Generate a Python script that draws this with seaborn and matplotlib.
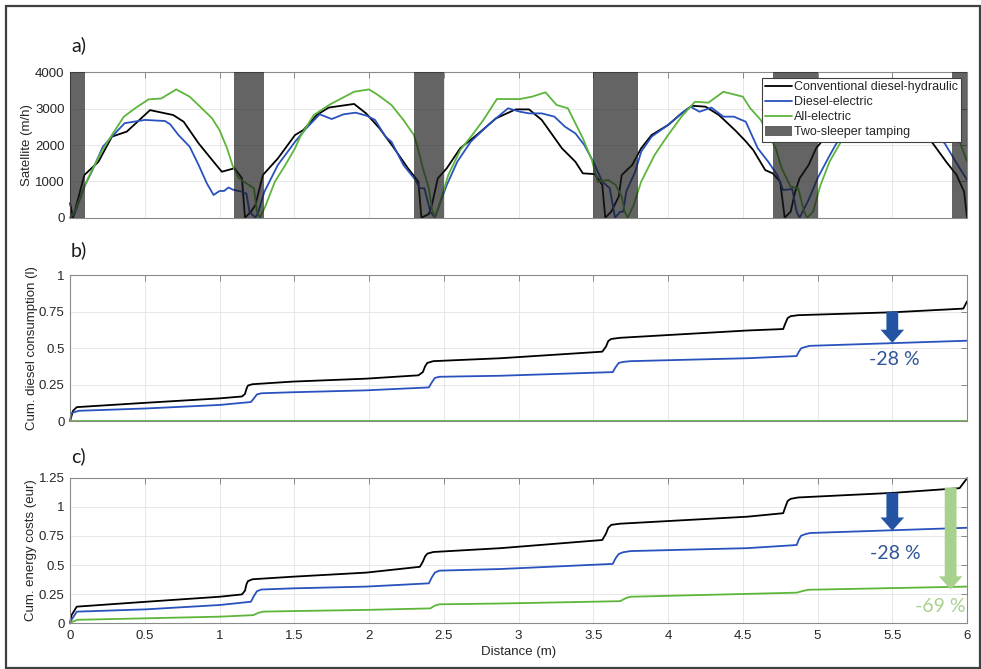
import numpy as np
import pandas as pd
import matplotlib.pyplot as plt
import seaborn as sns
from matplotlib.lines import Line2D
from matplotlib.patches import Patch, Rectangle
from matplotlib.ticker import FuncFormatter

# ── data ─────────────────────────────────────────────────────
machines = ["Conventional diesel-hydraulic", "Diesel-electric", "All-electric"]
colors = ["#000000", "#2a52be", "#5db53a"]

tamping_start = [0.0, 1.1, 2.3, 3.5, 4.7, 5.9]
tamping_end = [0.1, 1.3, 2.5, 3.8, 5.0, 6.0]

# a) satellite speed (m/h)
sat_conv_x = [0.0, 0.02, 0.096, 0.19, 0.28, 0.38, 0.535, 0.69, 0.76, 0.86, 0.95, 1.015, 1.10,
              1.15, 1.17, 1.21, 1.24, 1.29, 1.39, 1.505, 1.56, 1.65, 1.73, 1.90, 1.98, 2.07,
              2.16, 2.26, 2.33, 2.35, 2.40, 2.42, 2.46, 2.52, 2.61, 2.72, 2.85, 2.98, 3.07,
              3.155, 3.29, 3.38, 3.43, 3.51, 3.56, 3.58, 3.62, 3.67, 3.69, 3.76, 3.82, 3.89,
              4.00, 4.09, 4.16, 4.25, 4.34, 4.45, 4.52, 4.57, 4.65, 4.70, 4.75, 4.78, 4.82,
              4.85, 4.88, 4.94, 4.99, 5.1, 5.2, 5.3, 5.4, 5.5, 5.6, 5.7, 5.77, 5.86, 5.93,
              5.98, 6.0]
sat_conv_y = [400, 0, 1175, 1540, 2230, 2370, 2960, 2825, 2640, 2045, 1590, 1265, 1360,
              1085, 0, 165, 350, 1175, 1630, 2275, 2410, 2825, 3030, 3130, 2870, 2460,
              1955, 1360, 990, 0, 100, 350, 1085, 1360, 1910, 2275, 2735, 2980, 2980,
              2690, 1910, 1540, 1220, 1200, 900, 0, 165, 580, 1175, 1450, 1910, 2275,
              2550, 2870, 3080, 3055, 2825, 2400, 2100, 1860, 1310, 1220, 990, 0, 165,
              715, 1085, 1450, 1910, 2450, 2800, 2980, 3050, 2980, 2750, 2350, 2050, 1540,
              1175, 715, 0]

sat_de_x = [0.0, 0.03, 0.10, 0.145, 0.22, 0.28, 0.365, 0.50, 0.635, 0.67, 0.725, 0.80, 0.86,
            0.915, 0.96, 1.00, 1.03, 1.06, 1.09, 1.15, 1.18, 1.20, 1.24, 1.26, 1.30, 1.39,
            1.505, 1.58, 1.67, 1.75, 1.83, 1.91, 1.985, 2.04, 2.11, 2.15, 2.23, 2.31, 2.34,
            2.37, 2.41, 2.44, 2.47, 2.52, 2.59, 2.68, 2.81, 2.93, 3.01, 3.07, 3.155, 3.24,
            3.31, 3.38, 3.44, 3.50, 3.56, 3.61, 3.645, 3.68, 3.70, 3.72, 3.78, 3.82, 3.89,
            4.00, 4.09, 4.15, 4.21, 4.29, 4.37, 4.44, 4.52, 4.55, 4.60, 4.67, 4.73, 4.77,
            4.83, 4.86, 4.88, 4.90, 4.94, 5.00, 5.07, 5.12, 5.2, 5.3, 5.4, 5.5, 5.6, 5.7,
            5.78, 5.85, 5.93, 6.0]
sat_de_y = [0, 100, 900, 1265, 1955, 2230, 2600, 2690, 2660, 2570, 2275, 1955, 1450,
            945, 625, 735, 735, 830, 770, 715, 660, 165, 0, 165, 715, 1450,
            2090, 2460, 2845, 2715, 2845, 2890, 2805, 2690, 2230, 2090, 1450, 1040, 810,
            810, 165, 0, 350, 900, 1540, 2090, 2600, 3010, 2915, 2870, 2870, 2780,
            2505, 2320, 2000, 1540, 990, 810, 0, 165, 165, 715, 1265, 1815, 2230,
            2550, 2870, 3055, 2915, 3030, 2780, 2780, 2640, 2365, 1910, 1540, 1175, 760,
            790, 165, 0, 165, 490, 1085, 1630, 2000, 2500, 2800, 2950, 2900, 2750, 2500,
            2250, 2050, 1500, 1040]

sat_ae_x = [0.0, 0.03, 0.12, 0.21, 0.28, 0.36, 0.435, 0.525, 0.61, 0.71, 0.80, 0.87, 0.95,
            1.00, 1.05, 1.09, 1.13, 1.18, 1.23, 1.25, 1.27, 1.30, 1.37, 1.44, 1.505, 1.54,
            1.63, 1.74, 1.90, 2.00, 2.06, 2.15, 2.23, 2.30, 2.33, 2.36, 2.40, 2.42, 2.44,
            2.47, 2.53, 2.61, 2.69, 2.765, 2.855, 3.01, 3.09, 3.18, 3.255, 3.33, 3.43, 3.49,
            3.53, 3.60, 3.65, 3.69, 3.71, 3.73, 3.77, 3.82, 3.91, 4.00, 4.09, 4.18, 4.27,
            4.37, 4.50, 4.55, 4.62, 4.67, 4.72, 4.76, 4.82, 4.87, 4.91, 4.93, 4.97, 5.02,
            5.08, 5.15, 5.25, 5.35, 5.45, 5.55, 5.65, 5.75, 5.85, 5.95, 6.0]
sat_ae_y = [0, 165, 1085, 1815, 2275, 2780, 3010, 3255, 3280, 3530, 3330, 3055, 2735,
            2410, 1910, 1405, 1085, 945, 810, 165, 0, 250, 990, 1450, 1910, 2230,
            2825, 3120, 3465, 3530, 3375, 3100, 2690, 2275, 1860, 1360, 810, 250, 0,
            350, 1175, 1860, 2275, 2690, 3265, 3265, 3330, 3450, 3100, 3010, 2185, 1590,
            990, 1040, 900, 580, 165, 0, 350, 990, 1725, 2275, 2780, 3190, 3165,
            3465, 3330, 3010, 2690, 2275, 1910, 1360, 855, 810, 165, 0, 165, 900,
            1540, 2045, 2600, 3000, 3300, 3400, 3350, 3100, 2600, 2100, 1540]

# b) cumulative diesel consumption (l)
diesel_conv_x = [0, 0.02, 0.045, 0.51, 1.00, 1.15, 1.17, 1.18, 1.19, 1.22, 1.49, 1.98, 2.33,
                 2.36, 2.375, 2.39, 2.43, 2.88, 3.56, 3.585, 3.60, 3.62, 3.68, 4.53, 4.77,
                 4.785, 4.80, 4.82, 4.87, 5.51, 5.975, 6.0]
diesel_conv_y = [0, 0.07, 0.095, 0.125, 0.155, 0.168, 0.185, 0.22, 0.243, 0.252, 0.27, 0.29,
                 0.313, 0.335, 0.375, 0.398, 0.41, 0.43, 0.475, 0.51, 0.548, 0.562, 0.57,
                 0.62, 0.63, 0.67, 0.705, 0.718, 0.725, 0.745, 0.77, 0.82]
diesel_de_x = [0, 0.01, 0.06, 0.51, 1.00, 1.21, 1.23, 1.25, 1.28, 1.49, 1.98, 2.40, 2.42,
               2.44, 2.47, 2.88, 3.63, 3.65, 3.67, 3.70, 3.75, 4.53, 4.86, 4.875, 4.89,
               4.92, 4.95, 6.0]
diesel_de_y = [0, 0.055, 0.07, 0.086, 0.11, 0.13, 0.155, 0.182, 0.19, 0.197, 0.21, 0.23,
               0.265, 0.295, 0.303, 0.31, 0.335, 0.37, 0.398, 0.405, 0.41, 0.43, 0.445,
               0.475, 0.498, 0.508, 0.515, 0.55]
diesel_ae_x = [0, 6.0]
diesel_ae_y = [0, 0]

# c) cumulative energy costs (eur)
cost_conv_x = [0, 0.01, 0.045, 0.51, 1.0, 1.15, 1.17, 1.18, 1.19, 1.22, 1.49, 1.98, 2.34,
               2.36, 2.375, 2.39, 2.43, 2.88, 3.56, 3.585, 3.60, 3.62, 3.68, 4.53, 4.77,
               4.785, 4.80, 4.82, 4.87, 5.51, 5.95, 6.0]
cost_conv_y = [0, 0.07, 0.143, 0.185, 0.228, 0.248, 0.28, 0.335, 0.362, 0.378, 0.40, 0.435,
               0.485, 0.53, 0.575, 0.598, 0.612, 0.645, 0.715, 0.77, 0.82, 0.845, 0.855,
               0.915, 0.945, 1.0, 1.05, 1.068, 1.08, 1.12, 1.16, 1.245]
cost_de_x = [0, 0.01, 0.045, 0.51, 1.0, 1.21, 1.23, 1.25, 1.28, 1.49, 1.98, 2.40, 2.42,
             2.44, 2.47, 2.88, 3.63, 3.65, 3.67, 3.70, 3.75, 4.53, 4.86, 4.875, 4.89,
             4.92, 4.95, 6.0]
cost_de_y = [0, 0.03, 0.10, 0.12, 0.157, 0.185, 0.235, 0.275, 0.29, 0.30, 0.315, 0.343,
             0.395, 0.435, 0.452, 0.466, 0.51, 0.56, 0.595, 0.61, 0.62, 0.645, 0.672,
             0.72, 0.752, 0.766, 0.775, 0.82]
cost_ae_x = [0, 0.01, 0.05, 0.51, 1.0, 1.225, 1.26, 1.29, 1.49, 1.98, 2.41, 2.44, 2.47,
             2.88, 3.68, 3.72, 3.75, 4.86, 4.91, 4.94, 6.0]
cost_ae_y = [0, 0.01, 0.03, 0.043, 0.057, 0.07, 0.09, 0.10, 0.105, 0.115, 0.128, 0.152,
             0.163, 0.17, 0.19, 0.218, 0.228, 0.263, 0.28, 0.288, 0.315]


def long_df(series):
    frames = []
    for name, xs, ys in series:
        frames.append(pd.DataFrame({"x": xs, "y": ys, "machine": name}))
    return pd.concat(frames, ignore_index=True)


df_sat = long_df([(machines[0], sat_conv_x, sat_conv_y),
                  (machines[1], sat_de_x, sat_de_y),
                  (machines[2], sat_ae_x, sat_ae_y)])
df_diesel = long_df([(machines[0], diesel_conv_x, diesel_conv_y),
                     (machines[1], diesel_de_x, diesel_de_y),
                     (machines[2], diesel_ae_x, diesel_ae_y)])
df_cost = long_df([(machines[0], cost_conv_x, cost_conv_y),
                   (machines[1], cost_de_x, cost_de_y),
                   (machines[2], cost_ae_x, cost_ae_y)])

# ── style ────────────────────────────────────────────────────
sns.set_style("white")
plt.rcParams["font.family"] = ["Liberation Sans", "DejaVu Sans"]
palette = dict(zip(machines, colors))
shade_color = "#1a1a1a"
shade_alpha = 0.68
calibri_like = ["Lato", "DejaVu Sans"]

fig = plt.figure(figsize=(9.81, 6.69), dpi=100)
ax_a = fig.add_axes([0.0714, 0.6746, 0.9144, 0.2173])
ax_b = fig.add_axes([0.0714, 0.3707, 0.9144, 0.2182])
ax_c = fig.add_axes([0.0714, 0.0683, 0.9144, 0.2177])

for ax, df in [(ax_a, df_sat), (ax_b, df_diesel), (ax_c, df_cost)]:
    sns.lineplot(data=df, x="x", y="y", hue="machine", palette=palette,
                 estimator=None, sort=False, linewidth=1.3, legend=False, ax=ax)
    for ln in ax.lines:
        ln.set_clip_on(False)
    ax.set_xlim(0, 6)
    ax.set_xticks(np.arange(0, 6.01, 0.5))
    ax.xaxis.set_major_formatter(FuncFormatter(lambda v, p: f"{v:g}"))
    ax.yaxis.set_major_formatter(FuncFormatter(lambda v, p: f"{v:g}"))
    ax.grid(True, color="#e3e3e3", linewidth=0.6)
    ax.set_axisbelow(True)
    ax.tick_params(direction="in", top=True, right=True, length=4, width=0.6,
                   color="#7a7a7a", labelsize=9.5, labelcolor="#262626", pad=4)
    for s in ax.spines.values():
        s.set_color("#8a8a8a")
        s.set_linewidth(0.8)
    ax.set_xlabel("")

# --- a) ---
for s, e in zip(tamping_start, tamping_end):
    ax_a.axvspan(s, e, color=shade_color, alpha=shade_alpha, lw=0, zorder=3)
ax_a.set_ylim(0, 4000)
ax_a.set_yticks([0, 1000, 2000, 3000, 4000])
ax_a.tick_params(labelbottom=False)
ax_a.set_ylabel("Satellite (m/h)", fontsize=9.5)
ax_a.yaxis.set_label_coords(-0.041, 0.5)

handles = [Line2D([], [], color=c, lw=1.3) for c in colors]
handles.append(Patch(facecolor=shade_color, alpha=shade_alpha, lw=0))
leg = ax_a.legend(handles, machines + ["Two-sleeper tamping"], loc="upper right",
                  bbox_to_anchor=(0.993, 0.962), borderaxespad=0, frameon=True,
                  fancybox=False, framealpha=1, edgecolor="#404040", fontsize=9,
                  handlelength=2.2, handleheight=0.9, handletextpad=0.1,
                  borderpad=0.25, labelspacing=0.2)
leg.get_frame().set_linewidth(0.8)
leg.set_zorder(10)

# --- b) ---
ax_b.set_ylim(0, 1)
ax_b.set_yticks([0, 0.25, 0.5, 0.75, 1])
ax_b.tick_params(labelbottom=False)
ax_b.set_ylabel("Cum. diesel consumption (l)", fontsize=9.5)
ax_b.yaxis.set_label_coords(-0.036, 0.5)

arrow_blue = "#2453a3"
arrow_green = "#a9d18e"
arrow_style = "simple,head_width=1.7,head_length=0.95,tail_width=0.85"
ax_b.annotate("", xy=(5.5, 0.535), xytext=(5.5, 0.75),
              arrowprops=dict(arrowstyle=arrow_style, mutation_scale=10, color=arrow_blue,
                              shrinkA=0, shrinkB=0, lw=0), zorder=6)
ax_b.text(5.51, 0.42, "-28 %", ha="center", va="center", fontsize=14,
          color="#2f5597", family=calibri_like)

# --- c) ---
ax_c.set_ylim(0, 1.25)
ax_c.set_yticks([0, 0.25, 0.5, 0.75, 1, 1.25])
ax_c.set_xlabel("Distance (m)", fontsize=9.5, labelpad=3)
ax_c.set_ylabel("Cum. energy costs (eur)", fontsize=9.5)
ax_c.yaxis.set_label_coords(-0.037, 0.5)
ax_c.tick_params(axis="x", pad=5)

ax_c.annotate("", xy=(5.5, 0.795), xytext=(5.5, 1.12),
              arrowprops=dict(arrowstyle=arrow_style, mutation_scale=10, color=arrow_blue,
                              shrinkA=0, shrinkB=0, lw=0), zorder=6)
ax_c.annotate("", xy=(5.89, 0.29), xytext=(5.89, 1.165),
              arrowprops=dict(arrowstyle=arrow_style, mutation_scale=10, color=arrow_green,
                              shrinkA=0, shrinkB=0, lw=0), zorder=6)
ax_c.text(5.52, 0.60, "-28 %", ha="center", va="center", fontsize=14,
          color="#2f5597", family=calibri_like)
ax_c.text(5.82, 0.143, "-69 %", ha="center", va="center", fontsize=14,
          color=arrow_green, family=calibri_like)

# panel letters
for lab, yy in [("a)", 0.9327), ("b)", 0.6263), ("c)", 0.3184)]:
    fig.text(0.0724, yy, lab, ha="left", va="center", fontsize=14,
             family=calibri_like, color="#1a1a1a")

# outer frame
fig.patches.append(Rectangle((0.0058, 0.0022), 0.9927, 0.9893, transform=fig.transFigure,
                             fill=False, edgecolor="#404040", linewidth=1.6))

fig.savefig("out.png", dpi=100)
plt.close(fig)
